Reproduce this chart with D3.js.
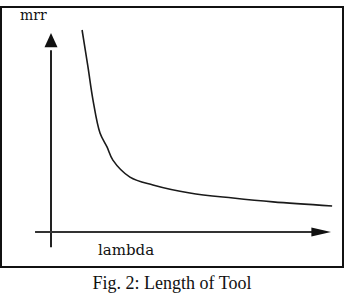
<!DOCTYPE html>
<html><head><meta charset="utf-8">
<script src="https://cdn.jsdelivr.net/npm/d3@7"></script>
<style>body{margin:0;background:#fff}svg{display:block}</style>
</head><body><svg id="c" width="344" height="294"></svg>
<script>
const lambda = [11.1, 13.2, 15.0, 17.5, 20.0, 22.1, 28.2, 36.4, 49.6, 65.0, 79.3, 100.4];
const mrr = [100, 81.7, 65.3, 49.0, 42.1, 35.6, 27.2, 23.3, 19.3, 16.8, 14.9, 12.9];
const xLabel = "lambda", yLabel = "mrr", caption = "Fig. 2: Length of Tool";

const svg = d3.select("#c");
const x = d3.scaleLinear().domain([0, 100]).range([51, 331]);
const y = d3.scaleLinear().domain([0, 100]).range([232, 30]);

// frame
svg.append("rect").attr("x", 1).attr("y", 7).attr("width", 342).attr("height", 260)
  .attr("fill", "none").attr("stroke", "#111").attr("stroke-width", 2);

// y axis
svg.append("line").attr("x1", x(0)).attr("x2", x(0)).attr("y1", y(-7.5)).attr("y2", y(90))
  .attr("stroke", "#222").attr("stroke-width", 2);
svg.append("path").attr("d", `M${x(0)},${y(98.5)} L${x(0)-6.5},${y(91.5)} L${x(0)+6.5},${y(91.5)} Z`).attr("fill", "#111");
// x axis
svg.append("line").attr("x1", x(-5.7)).attr("x2", x(94)).attr("y1", y(0)).attr("y2", y(0))
  .attr("stroke", "#333").attr("stroke-width", 2);
svg.append("path").attr("d", `M${x(100)},${y(0)} L${x(93)},${y(0)+4.5} L${x(93)},${y(0)-4.5} Z`).attr("fill", "#111");

// curve
const pts = lambda.map((v, i) => [v, mrr[i]]);
svg.append("path").attr("d", d3.line().x(d => x(d[0])).y(d => y(d[1])).curve(d3.curveCatmullRom)(pts))
  .attr("fill", "none").attr("stroke", "#1a1a1a").attr("stroke-width", 1.6);

// labels
svg.append("text").attr("x", 20).attr("y", 20).text(yLabel)
  .attr("font-family", "DejaVu Serif, serif").attr("font-size", 14).attr("fill", "#111");
svg.append("text").attr("x", 98).attr("y", 255).text(xLabel)
  .attr("font-family", "DejaVu Serif, serif").attr("font-size", 15).attr("fill", "#111");
svg.append("text").attr("x", 172).attr("y", 289).attr("text-anchor", "middle").text(caption)
  .attr("font-family", "Liberation Serif, serif").attr("font-size", 18).attr("fill", "#111");
</script></body></html>
